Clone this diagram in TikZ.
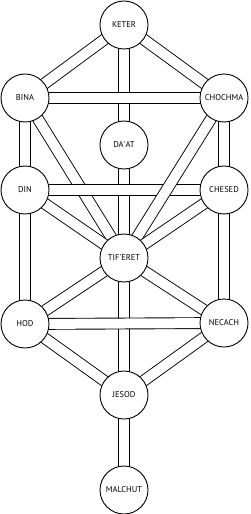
\documentclass[tikz,border=0pt]{standalone}
\usepackage{fontspec}
\setmainfont{PT Sans}
\usepackage{tikz}
\usetikzlibrary{backgrounds}
\tikzset{
  sefira/.style={draw, circle, fill=white, line width=0.9bp, minimum size=48bp, inner sep=0pt, font=\fontsize{8.5}{10}\selectfont},
  channel/.style={draw=black, line width=0.9bp, double=white, double distance=10bp}
}
\begin{document}
\begin{tikzpicture}[x=1bp, y=-1bp]
  \useasboundingbox (0,0) rectangle (250,514);
  % sefirot
  \node[sefira] (keter) at (124,25) {KETER};
  \node[sefira] (bina) at (25,98) {BINA};
  \node[sefira] (chochma) at (224,98) {CHOCHMA};
  \node[sefira] (daat) at (124,145) {DA\textquotesingle AT};
  \node[sefira] (din) at (25,190) {DIN};
  \node[sefira] (chesed) at (224,190) {CHESED};
  \node[sefira] (tiferet) at (124,258) {TIF\textquotesingle ERET};
  \node[sefira] (hod) at (25,324) {HOD};
  \node[sefira] (necach) at (224,323) {NECACH};
  \node[sefira] (jesod) at (124,395) {JESOD};
  \node[sefira] (malchut) at (124,490) {MALCHUT};
  \begin{pgfonlayer}{background}
    % middle pillar
    \draw[channel] (keter.center) -- (tiferet.center);
    \draw[channel] (tiferet.center) -- (jesod.center);
    \draw[channel] (jesod.center) -- (malchut.center);
    % upper triangle
    \draw[channel] (keter.center) -- (bina.center);
    \draw[channel] (keter.center) -- (chochma.center);
    \draw[channel] (bina.center) -- (chochma.center);
    % side pillars
    \draw[channel] (bina.center) -- (din.center);
    \draw[channel] (din.center) -- (hod.center);
    \draw[channel] (chochma.center) -- (chesed.center);
    \draw[channel] (chesed.center) -- (necach.center);
    % into tif'eret
    \draw[channel] (bina.center) -- (tiferet.center);
    \draw[channel] (din.center) -- (chesed.center);
    \draw[channel] (chochma.center) -- (tiferet.center);
    \draw[channel] (din.center) -- (tiferet.center);
    \draw[channel] (chesed.center) -- (tiferet.center);
    \draw[channel] (hod.center) -- (tiferet.center);
    \draw[channel] (necach.center) -- (tiferet.center);
    % lower triangle
    \draw[channel] (hod.center) -- (necach.center);
    \draw[channel] (hod.center) -- (jesod.center);
    \draw[channel] (necach.center) -- (jesod.center);
  \end{pgfonlayer}
\end{tikzpicture}
\end{document}
